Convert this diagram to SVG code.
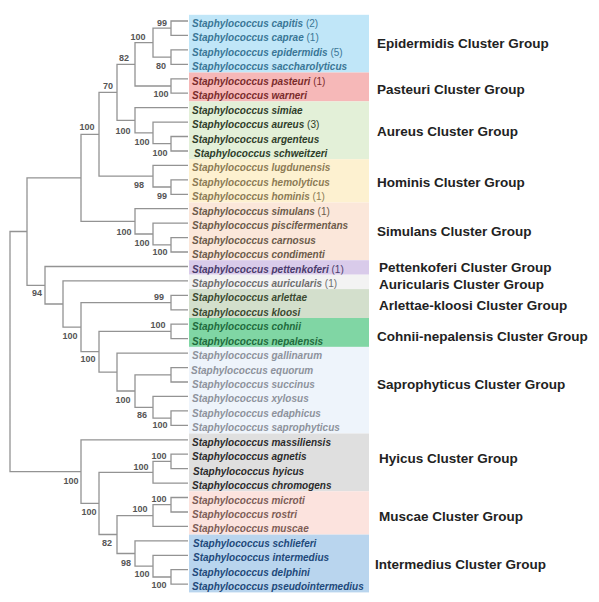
<svg xmlns="http://www.w3.org/2000/svg" width="599" height="602" viewBox="0 0 599 602">
<style>
.sp{font-family:"Liberation Sans",Arial,sans-serif;font-size:10px;font-weight:bold;font-style:italic}
.n{font-style:normal;font-weight:normal}
.grp{font-family:"Liberation Sans",Arial,sans-serif;font-size:13.5px;font-weight:bold;fill:#222}
.bs{font-family:"Liberation Sans",Arial,sans-serif;font-size:9px;font-weight:bold;fill:#555;text-anchor:middle}
.tree{fill:none;stroke:#939393;stroke-width:1.3}
</style>
<rect width="599" height="602" fill="#fff"/>
<g id="epidermidis" fill="#3a7696">
<rect x="189" y="14.8" width="180" height="57.7" fill="#c0e6f8"/>
<text class="sp" x="192" y="27">Staphylococcus capitis <tspan class="n">(2)</tspan></text>
<text class="sp" x="192" y="41.4">Staphylococcus caprae <tspan class="n">(1)</tspan></text>
<text class="sp" x="192" y="55.9">Staphylococcus epidermidis <tspan class="n">(5)</tspan></text>
<text class="sp" x="192" y="70.3">Staphylococcus saccharolyticus</text>
<text class="grp" x="377" y="48">Epidermidis Cluster Group</text>
</g>
<g id="pasteuri" fill="#7a2c2c">
<rect x="189" y="72.5" width="180" height="28.9" fill="#f6b8b8"/>
<text class="sp" x="192" y="84.8">Staphylococcus pasteuri <tspan class="n">(1)</tspan></text>
<text class="sp" x="192" y="99.2">Staphylococcus warneri</text>
<text class="grp" x="377" y="94">Pasteuri Cluster Group</text>
</g>
<g id="aureus" fill="#2f3d2a">
<rect x="189" y="101.4" width="180" height="57.8" fill="#e3f0d8"/>
<text class="sp" x="192" y="113.6">Staphylococcus simiae</text>
<text class="sp" x="192" y="128.1">Staphylococcus aureus <tspan class="n">(3)</tspan></text>
<text class="sp" x="192" y="142.5">Staphylococcus argenteus</text>
<text class="sp" x="194" y="157">Staphylococcus schweitzeri</text>
<text class="grp" x="377" y="136">Aureus Cluster Group</text>
</g>
<g id="hominis" fill="#8c7b55">
<rect x="189" y="159.2" width="180" height="43.3" fill="#fdf1d0"/>
<text class="sp" x="192" y="171.4">Staphylococcus lugdunensis</text>
<text class="sp" x="192" y="185.8">Staphylococcus hemolyticus</text>
<text class="sp" x="192" y="200.3">Staphylococcus hominis <tspan class="n">(1)</tspan></text>
<text class="grp" x="377" y="187">Hominis Cluster Group</text>
</g>
<g id="simulans" fill="#6c5b4a">
<rect x="189" y="202.5" width="180" height="57.7" fill="#fbe7da"/>
<text class="sp" x="192" y="214.7">Staphylococcus simulans <tspan class="n">(1)</tspan></text>
<text class="sp" x="192" y="229.2">Staphylococcus piscifermentans</text>
<text class="sp" x="192" y="243.6">Staphylococcus carnosus</text>
<text class="sp" x="192" y="258">Staphylococcus condimenti</text>
<text class="grp" x="377" y="236">Simulans Cluster Group</text>
</g>
<g id="pettenkoferi" fill="#4a3b6c">
<rect x="189" y="260.2" width="180" height="14.5" fill="#d9cbea"/>
<text class="sp" x="192" y="272.5">Staphylococcus pettenkoferi <tspan class="n">(1)</tspan></text>
<text class="grp" x="379" y="272">Pettenkoferi Cluster Group</text>
</g>
<g id="auricularis" fill="#6e6e6e">
<rect x="189" y="274.7" width="180" height="14.4" fill="#f3f3f3"/>
<text class="sp" x="192" y="286.9">Staphylococcus auricularis <tspan class="n">(1)</tspan></text>
<text class="grp" x="379" y="289">Auricularis Cluster Group</text>
</g>
<g id="arlettae-kloosi" fill="#3b4a31">
<rect x="189" y="289.1" width="180" height="28.9" fill="#d3dfcc"/>
<text class="sp" x="192" y="301.4">Staphylococcus arlettae</text>
<text class="sp" x="192" y="315.8">Staphylococcus kloosi</text>
<text class="grp" x="379" y="310">Arlettae-kloosi Cluster Group</text>
</g>
<g id="cohnii-nepalensis" fill="#1f6b3d">
<rect x="189" y="318" width="180" height="28.9" fill="#80d6a4"/>
<text class="sp" x="192" y="330.2">Staphylococcus cohnii</text>
<text class="sp" x="192" y="344.7">Staphylococcus nepalensis</text>
<text class="grp" x="377" y="341">Cohnii-nepalensis Cluster Group</text>
</g>
<g id="saprophyticus" fill="#8d929c">
<rect x="189" y="346.9" width="180" height="86.6" fill="#eef4fb"/>
<text class="sp" x="192" y="359.1">Staphylococcus gallinarum</text>
<text class="sp" x="191" y="373.6">Staphylococcus equorum</text>
<text class="sp" x="192" y="388">Staphylococcus succinus</text>
<text class="sp" x="192" y="402.4">Staphylococcus xylosus</text>
<text class="sp" x="192" y="416.9">Staphylococcus edaphicus</text>
<text class="sp" x="192" y="431.3">Staphylococcus saprophyticus</text>
<text class="grp" x="377" y="389">Saprophyticus Cluster Group</text>
</g>
<g id="hyicus" fill="#2b2b2b">
<rect x="189" y="433.5" width="180" height="57.8" fill="#dfdfdf"/>
<text class="sp" x="192" y="445.8">Staphylococcus massiliensis</text>
<text class="sp" x="192" y="460.2">Staphylococcus agnetis</text>
<text class="sp" x="193" y="474.6">Staphylococcus hyicus</text>
<text class="sp" x="192" y="489.1">Staphylococcus chromogens</text>
<text class="grp" x="379" y="463">Hyicus Cluster Group</text>
</g>
<g id="muscae" fill="#7d5d57">
<rect x="189" y="491.3" width="180" height="43.3" fill="#fce3de"/>
<text class="sp" x="192" y="503.5">Staphylococcus microti</text>
<text class="sp" x="192" y="518">Staphylococcus rostri</text>
<text class="sp" x="192" y="532.4">Staphylococcus muscae</text>
<text class="grp" x="379" y="521">Muscae Cluster Group</text>
</g>
<g id="intermedius" fill="#22497a">
<rect x="189" y="534.6" width="180" height="57.8" fill="#b9d5ee"/>
<text class="sp" x="193" y="546.8">Staphylococcus schlieferi</text>
<text class="sp" x="193" y="561.3">Staphylococcus intermedius</text>
<text class="sp" x="192" y="575.7">Staphylococcus delphini</text>
<text class="sp" x="192" y="590.2">Staphylococcus pseudointermedius</text>
<text class="grp" x="375" y="569">Intermedius Cluster Group</text>
</g>
<g id="connectors">
<path class="tree" d="M27 231.5H10V471.6H81 M81 177.8H27V285.3H45 M99 134.3H81V221.4H135 M117 92.3H99V176.2H153 M135 64.3H117V120.3H135 M153 42.65H135V86H171 M171 28.2H153V57.1H171 M188 21H171V35.4H188 M188 49.9H171V64.3H188 M188 78.8H171V93.2H188 M188 107.6H135V132.9H153 M188 122.1H153V143.7H171 M188 136.5H171V151H188 M188 165.4H153V187H171 M188 179.8H171V194.3H188 M188 208.7H135V234H153 M188 223.2H153V244.8H171 M188 237.6H171V252H188 M188 266.5H45V304H63 M188 280.9H63V327.2H81 M171 302.6H81V351.7H99 M188 295.4H171V309.8H188 M171 331.4H99V372.1H117 M188 324.2H171V338.7H188 M188 353.1H117V391H135 M171 374.8H135V407.3H153 M188 367.6H171V382H188 M188 396.4H153V418.1H171 M188 410.9H171V425.3H188 M188 439.8H81V503.4H99 M153 472.3H99V534.5H117 M171 461.4H153V483.1H188 M188 454.2H171V468.6H188 M153 515.6H117V553.5H135 M171 504.7H153V526.4H188 M188 497.5H171V512H188 M188 540.8H135V566.1H153 M188 555.3H153V577H171 M188 569.7H171V584.2H188"/>
</g>
<g id="support">
<text class="bs" x="162" y="26">99</text>
<text class="bs" x="161" y="69">80</text>
<text class="bs" x="138" y="40">100</text>
<text class="bs" x="161" y="97">100</text>
<text class="bs" x="124" y="61">82</text>
<text class="bs" x="142" y="145">100</text>
<text class="bs" x="160" y="156">100</text>
<text class="bs" x="123" y="134">100</text>
<text class="bs" x="108" y="89">70</text>
<text class="bs" x="139" y="188">98</text>
<text class="bs" x="162" y="199">99</text>
<text class="bs" x="87" y="130">100</text>
<text class="bs" x="124" y="235">100</text>
<text class="bs" x="142" y="246">100</text>
<text class="bs" x="160" y="255">100</text>
<text class="bs" x="37" y="296">94</text>
<text class="bs" x="70" y="339">100</text>
<text class="bs" x="159" y="300">99</text>
<text class="bs" x="88" y="362">100</text>
<text class="bs" x="158" y="328">100</text>
<text class="bs" x="123" y="403">100</text>
<text class="bs" x="142" y="418">86</text>
<text class="bs" x="160" y="428">100</text>
<text class="bs" x="71" y="484">100</text>
<text class="bs" x="159" y="459">100</text>
<text class="bs" x="141" y="470">100</text>
<text class="bs" x="89" y="515">100</text>
<text class="bs" x="159" y="502">100</text>
<text class="bs" x="140" y="512">100</text>
<text class="bs" x="107" y="546">82</text>
<text class="bs" x="126" y="566">98</text>
<text class="bs" x="142" y="577">100</text>
<text class="bs" x="159" y="588">100</text>
</g>
</svg>
